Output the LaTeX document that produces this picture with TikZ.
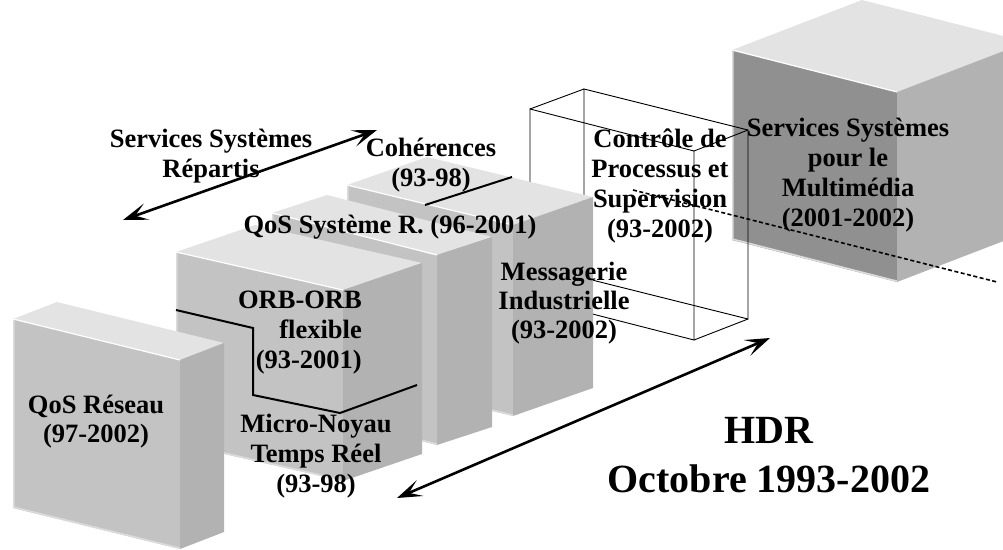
\documentclass[tikz,border=0pt]{standalone}
\usepackage{fontspec}
\setmainfont{Liberation Serif}
\usetikzlibrary{arrows.meta}

\definecolor{topc}{gray}{0.89}
\definecolor{frontc}{gray}{0.765}
\definecolor{sidec}{gray}{0.70}
\definecolor{darkfront}{gray}{0.565}
\definecolor{edgec}{gray}{0.86}

% Solid slab: #1,#2 front top-left corner; #3 width; #4 drop of the top edge;
% #5 height; #6,#7 depth vector; #8 front colour; #9 side colour
\newcommand\slab[9]{%
  \begin{scope}[shift={(#1,#2)}]
    \fill[#8] (0,0) -- (#3,#4) -- (#3,#4+#5) -- (0,#5) -- cycle;
    \fill[topc] (0,0) -- (#3,#4) -- (#3+#6,#4+#7) -- (#6,#7) -- cycle;
    \fill[#9] (#3,#4) -- (#3+#6,#4+#7) -- (#3+#6,#4+#5+#7) -- (#3,#4+#5) -- cycle;
    \draw[white, line width=1.2] (0,0) -- (#3,#4);
    \draw[edgec, line width=1.6] (0.8,1) -- (0.8,#5-0.8) -- (#3,#4+#5-0.8);
  \end{scope}}

% labels are anchored on the baseline of their last line
\tikzset{
  lbl/.style={font=\bfseries\fontsize{26.5}{30}\selectfont, align=center, inner sep=0pt, anchor=base},
  big/.style={font=\bfseries\fontsize{40}{49}\selectfont, align=center, inner sep=0pt, anchor=base},
  wire/.style={line width=0.9pt, black},
  split/.style={line width=2pt, black},
  span/.style={line width=2.6pt, black, {Stealth[length=25pt,width=17pt,inset=12pt]}-{Stealth[length=25pt,width=17pt,inset=12pt]}},
  guide/.style={line width=1.6pt, black, dash pattern=on 4pt off 2.5pt}
}

\begin{document}
\begin{tikzpicture}[x=1pt,y=-1pt]
  \useasboundingbox (0,0) rectangle (1003,549);
  \clip (0,0) rectangle (1003,549);

  % multimedia block, far right
  \slab{732}{50}{165}{42}{190}{130}{-50}{darkfront}{sidec}

  % wireframe block: process control
  \coordinate (w1) at (530,109); \coordinate (w2) at (694,151);
  \coordinate (w3) at (694,340); \coordinate (w4) at (530,298);
  \coordinate (v1) at (584,89);  \coordinate (v2) at (748,130);
  \coordinate (v3) at (748,319); \coordinate (v4) at (584,278);
  \draw[wire] (v1) -- (v2) -- (v3) -- (v4) -- cycle;
  \draw[wire] (w1) -- (w2) -- (w3) -- (w4) -- cycle;
  \draw[wire] (w1) -- (v1) (w2) -- (v2) (w3) -- (v3) (w4) -- (v4);

  % coherence / messaging block
  \slab{347}{185}{166}{40}{191}{80}{-28}{frontc}{sidec}
  \coordinate (c1) at (425,205); \coordinate (c2) at (512,177);
  \draw[split] (c1) -- (c2);

  % distributed QoS block
  \slab{272}{213}{165}{42}{190}{55}{-18}{frontc}{sidec}

  % ORB / micro-kernel block
  \slab{176}{252}{167}{38}{191}{79}{-27}{frontc}{sidec}
  \coordinate (o1) at (176,310); \coordinate (o2) at (253,328);
  \coordinate (o3) at (253,395); \coordinate (o4) at (340,413);
  \coordinate (o5) at (417,385);
  \draw[split] (o1) -- (o2) -- (o3) -- (o4) -- (o5);

  % network QoS block, front
  \slab{13}{319}{167}{41}{189}{44}{-17}{frontc}{sidec}

  % labels
  \node[lbl] (rep) at (211,177) {Services Systèmes\\Répartis};
  \node[lbl] (coh) at (431,186) {Cohérences\\(93-98)};
  \node[lbl] (qsr) at (390,233) {QoS Système R. (96-2001)};
  \node[lbl, align=right, anchor=base east] (orb) at (362,368) {ORB-ORB\\flexible\\(93-2001)};
  \node[lbl] (mic) at (316,492) {Micro-Noyau\\Temps Réel\\(93-98)};
  \node[lbl, font=\bfseries\fontsize{26.5}{29}\selectfont] (qos) at (96,442) {QoS Réseau\\(97-2002)};
  \node[lbl, font=\bfseries\fontsize{26.5}{29}\selectfont] (msg) at (564,338) {Messagerie\\Industrielle\\(93-2002)};
  \node[lbl] (ctl) at (660,237) {Contrôle de\\Processus et\\Supervision\\(93-2002)};
  \node[lbl] (mm) at (848,226) {Services Systèmes\\pour le\\Multimédia\\(2001-2002)};
  \node[big] (hdr) at (769,492) {HDR\\Octobre 1993-2002};

  % spans and guide line
  \coordinate (ra1) at (123,220); \coordinate (ra2) at (377,130);
  \coordinate (hb1) at (397,498); \coordinate (hb2) at (770,338);
  \coordinate (ds1) at (633,190); \coordinate (ds2) at (997,282);
  \draw[span] (ra1) -- (ra2);
  \draw[span] (hb1) -- (hb2);
  \draw[guide] (ds1) -- (ds2);
\end{tikzpicture}
\end{document}
